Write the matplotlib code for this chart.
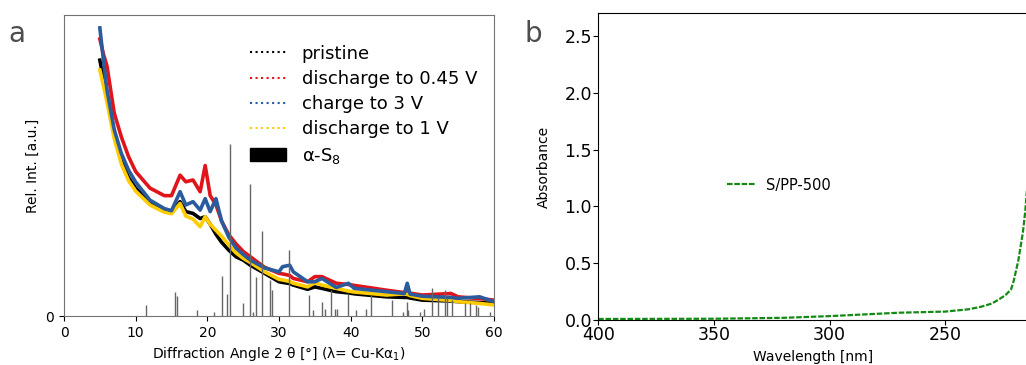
import matplotlib.pyplot as plt
from matplotlib.lines import Line2D
from matplotlib.patches import Patch

# XRD curves (relative intensity, arbitrary units)
two_theta = [5, 5.5, 6, 7, 8, 9, 10, 12, 14, 15, 16.2, 17, 18, 19, 19.7, 20.4, 21.2, 22, 23, 24,
             25, 26, 28, 30, 30.5, 31.5, 32, 34, 35, 36, 38, 39.7, 40.5, 45, 47.5, 47.9, 48.3,
             50, 54, 55, 58, 60]
pristine = [0.850, 0.79, 0.73, 0.61, 0.52, 0.46, 0.425, 0.377, 0.350, 0.345, 0.380, 0.347,
            0.341, 0.324, 0.330, 0.305, 0.272, 0.245, 0.219, 0.197, 0.186, 0.169, 0.142, 0.114,
            0.112, 0.108, 0.103, 0.089, 0.097, 0.092, 0.081, 0.077, 0.074, 0.064, 0.062, 0.062,
            0.060, 0.053, 0.050, 0.048, 0.045, 0.042]
dis_045 = [0.920, 0.87, 0.83, 0.675, 0.595, 0.53, 0.48, 0.425, 0.400, 0.400, 0.468, 0.446,
           0.452, 0.413, 0.500, 0.40, 0.37, 0.315, 0.27, 0.24, 0.215, 0.197, 0.162, 0.142,
           0.140, 0.135, 0.125, 0.114, 0.131, 0.131, 0.109, 0.105, 0.102, 0.086, 0.078, 0.080,
           0.076, 0.070, 0.075, 0.064, 0.058, 0.053]
charge_3 = [0.957, 0.85, 0.75, 0.62, 0.54, 0.485, 0.445, 0.385, 0.357, 0.350, 0.413, 0.369,
            0.380, 0.352, 0.390, 0.347, 0.390, 0.315, 0.262, 0.226, 0.205, 0.186, 0.160, 0.147,
            0.164, 0.169, 0.147, 0.114, 0.114, 0.125, 0.095, 0.109, 0.092, 0.081, 0.075, 0.109,
            0.073, 0.066, 0.062, 0.059, 0.064, 0.048]
dis_1 = [0.817, 0.765, 0.71, 0.59, 0.505, 0.45, 0.415, 0.369, 0.345, 0.340, 0.374, 0.332,
         0.322, 0.297, 0.330, 0.305, 0.285, 0.265, 0.236, 0.210, 0.192, 0.178, 0.147, 0.122,
         0.120, 0.115, 0.109, 0.097, 0.111, 0.103, 0.092, 0.083, 0.080, 0.070, 0.074, 0.072,
         0.068, 0.059, 0.052, 0.048, 0.042, 0.037]

# alpha-S8 reference reflections
s8_pos = [11.5, 15.5, 15.7, 18.5, 21.0, 22.0, 22.7, 23.1, 25.0, 25.9, 26.4, 26.8, 27.7, 28.7,
          29.0, 31.4, 34.2, 34.7, 36.0, 36.4, 37.3, 37.8, 38.1, 39.6, 40.7, 42.2, 42.9, 45.8,
          47.3, 47.8, 48.0, 49.7, 50.3, 51.4, 52.2, 53.2, 53.4, 54.1, 55.9, 56.7, 57.5, 57.8, 59.5]
s8_int = [0.037, 0.081, 0.066, 0.02, 0.014, 0.133, 0.075, 0.570, 0.042, 0.439, 0.014, 0.131,
          0.282, 0.12, 0.086, 0.221, 0.070, 0.02, 0.048, 0.025, 0.086, 0.025, 0.025, 0.075,
          0.02, 0.025, 0.070, 0.053, 0.014, 0.048, 0.02, 0.014, 0.025, 0.092, 0.059, 0.086,
          0.059, 0.053, 0.042, 0.042, 0.037, 0.031, 0.014]

# UV-vis absorbance
wavelength = [400, 350, 320, 300, 285, 270, 260, 250, 240, 234.6, 230, 227, 224, 221.6,
              220.4, 218.5, 216.5, 215.5, 214.7]
absorbance = [0.010, 0.012, 0.020, 0.035, 0.050, 0.065, 0.070, 0.075, 0.095, 0.117, 0.145,
              0.18, 0.22, 0.27, 0.35, 0.52, 0.77, 0.95, 1.15]

fig = plt.figure(figsize=(10.26, 3.65), dpi=100)

# ---- panel a ----
ax1 = fig.add_axes([0.0624, 0.134, 0.419, 0.825])
c_red, c_blue, c_yel = '#e0151b', '#2a5b9c', '#ffcc00'
ax1.plot(two_theta, pristine, color='black', lw=2.6, zorder=2)
ax1.plot(two_theta, dis_045, color=c_red, lw=2.6, zorder=2)
ax1.plot(two_theta, dis_1, color=c_yel, lw=2.6, zorder=3)
ax1.plot(two_theta, charge_3, color=c_blue, lw=2.6, zorder=4)
ax1.vlines(s8_pos, 0, s8_int, color='0.4', lw=1, zorder=5)
ax1.set_xlim(0, 60)
ax1.set_ylim(0, 1)
ax1.set_xticks(range(0, 61, 10))
ax1.set_yticks([0])
ax1.tick_params(labelsize=10)
ax1.set_xlabel('Diffraction Angle 2 θ [°] (λ= Cu-Kα$_1$)', fontsize=10)
ax1.set_ylabel('Rel. Int. [a.u.]', fontsize=10)
for s in ax1.spines.values():
    s.set_color('0.45')

handles = [Line2D([], [], color='black', ls=':', lw=1.5),
           Line2D([], [], color=c_red, ls=':', lw=1.5),
           Line2D([], [], color=c_blue, ls=':', lw=1.5),
           Line2D([], [], color=c_yel, ls=':', lw=1.5),
           Patch(color='black')]
labels = ['pristine', 'discharge to 0.45 V', 'charge to 3 V', 'discharge to 1 V', 'α-S$_8$']
ax1.legend(handles, labels, loc='upper left', bbox_to_anchor=(0.395, 0.955), frameon=False,
           fontsize=13, handlelength=2.0, handletextpad=0.85, labelspacing=0.4)

# ---- panel b ----
ax2 = fig.add_axes([0.583, 0.123, 0.418, 0.841])
ax2.plot(wavelength, absorbance, color='#148a14', lw=1.6, ls=(0, (2.5, 0.8)), label='S/PP-500')
ax2.set_xlim(400, 214.7)
ax2.set_ylim(0, 2.7)
ax2.set_xticks([400, 350, 300, 250])
ax2.set_yticks([0, 0.5, 1.0, 1.5, 2.0, 2.5])
ax2.tick_params(labelsize=12.5, pad=1)
ax2.set_xlabel('Wavelength [nm]', fontsize=10, labelpad=4)
ax2.set_ylabel('Absorbance', fontsize=10, labelpad=10)
ax2.legend(loc='center left', bbox_to_anchor=(0.27, 0.44), frameon=False, fontsize=10.5,
           handlelength=1.9, handletextpad=0.75)

fig.text(0.008, 0.885, 'a', fontsize=20, color='0.3')
fig.text(0.511, 0.885, 'b', fontsize=20, color='0.3')

fig.savefig('out.png', dpi=100)
